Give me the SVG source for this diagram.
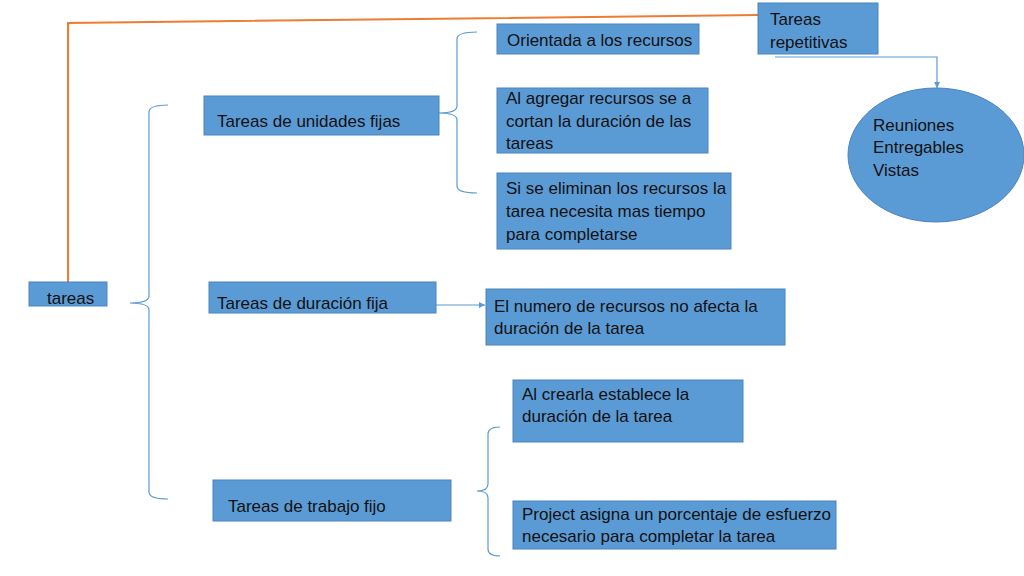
<svg xmlns="http://www.w3.org/2000/svg" width="1024" height="576" viewBox="0 0 1024 576">
<style>
.box{fill:#5B9BD5;stroke:#4A84BC;stroke-width:1}
.t{font-family:"Liberation Sans",Arial,sans-serif;font-size:17px;fill:#111}
.br{fill:none;stroke:#5B9BD5;stroke-width:1.2}
.ln{fill:none;stroke:#5B9BD5;stroke-width:1.2}
</style>
<defs>
<marker id="ah" viewBox="0 0 10 10" refX="10" refY="5" markerWidth="6" markerHeight="6" orient="auto" markerUnits="userSpaceOnUse">
<path d="M0,0 L10,5 L0,10 z" fill="#5B9BD5"/>
</marker>
</defs>
<rect width="1024" height="576" fill="#fff"/>
<g id="connectors">
<path d="M68,282 L68,23 L758,15" fill="none" stroke="#ED7D31" stroke-width="2"/>
<path class="br" d="M168,105 Q149,105 149,112 L149,296 Q149,303 130,303 Q149,303 149,310 L149,492 Q149,499 168,499"/>
<path class="br" d="M477,32 Q457,32 457,39 L457,106 Q457,113 439,113 Q457,113 457,120 L457,186 Q457,193 477,193"/>
<path class="br" d="M500,427 Q488,427 488,434 L488,484 Q488,491 477,491 Q488,491 488,498 L488,549 Q488,556 500,556"/>
<path class="ln" d="M436,305 L485,305" marker-end="url(#ah)"/>
<path class="ln" d="M775,57 L937,57 L937,88" marker-end="url(#ah)"/>
</g>
<g id="n-tareas"><rect class="box" x="29" y="282" width="78" height="24"/><text class="t" x="47" y="304">tareas</text></g>
<g id="n-unidades"><rect class="box" x="204" y="96" width="235" height="39"/><text class="t" x="217" y="127">Tareas de unidades fijas</text></g>
<g id="n-duracion"><rect class="box" x="209" y="282" width="227" height="31"/><text class="t" x="217" y="309">Tareas de duración fija</text></g>
<g id="n-trabajo"><rect class="box" x="213" y="480" width="238" height="41"/><text class="t" x="228" y="512">Tareas de trabajo fijo</text></g>
<g id="n-orientada"><rect class="box" x="497" y="24" width="202" height="30"/><text class="t" x="507" y="46">Orientada a los recursos</text></g>
<g id="n-agregar"><rect class="box" x="497" y="88" width="211" height="65"/><text class="t" x="506" y="104">Al agregar recursos se a</text><text class="t" x="506" y="127">cortan la duración de las</text><text class="t" x="506" y="149">tareas</text></g>
<g id="n-eliminan"><rect class="box" x="497" y="173" width="234" height="76"/><text class="t" x="506" y="194">Si se eliminan los recursos la</text><text class="t" x="506" y="217">tarea necesita mas tiempo</text><text class="t" x="506" y="240">para completarse</text></g>
<g id="n-repetitivas"><rect class="box" x="758" y="3" width="120" height="51"/><text class="t" x="770" y="25">Tareas</text><text class="t" x="770" y="48">repetitivas</text></g>
<g id="n-reuniones"><ellipse class="box" cx="936" cy="155" rx="88" ry="67"/><text class="t" x="873" y="131">Reuniones</text><text class="t" x="873" y="153">Entregables</text><text class="t" x="873" y="176">Vistas</text></g>
<g id="n-numero"><rect class="box" x="486" y="289" width="299" height="56"/><text class="t" x="494" y="312">El numero de recursos no afecta la</text><text class="t" x="494" y="334">duración de la tarea</text></g>
<g id="n-crearla"><rect class="box" x="513" y="380" width="230" height="62"/><text class="t" x="522" y="400">Al crearla establece la</text><text class="t" x="522" y="422">duración de la tarea</text></g>
<g id="n-project"><rect class="box" x="513" y="501" width="323" height="48"/><text class="t" x="522" y="520">Project asigna un porcentaje de esfuerzo</text><text class="t" x="522" y="542">necesario para completar la tarea</text></g>
</svg>
